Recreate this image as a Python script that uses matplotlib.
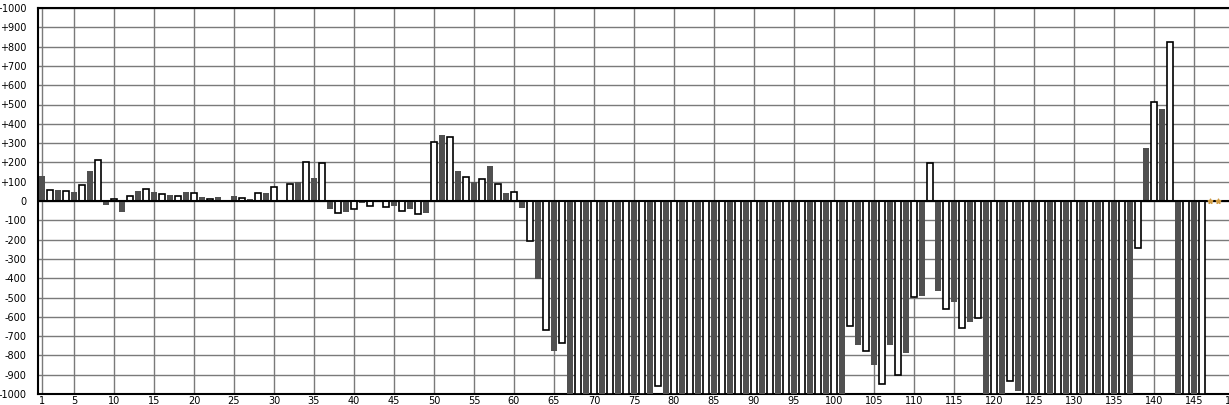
import matplotlib
matplotlib.use('Agg')
import matplotlib.pyplot as plt

# values per index (1..148); clipped bars set to -1000
values = [132, 57, 57, 52, 47, 83, 153, 214, -23, 10,
          -59, 26, 54, 63, 45, 37, 33, 26, 49, 42,
          19, 10, 19, 0, 28, 16, 12, 42, 43, 73,
          0, 89, 97, 203, 117, 198, -43, -63, -59, -42,
          -12, -26, 0, -31, -28, -52, -43, -68, -64, 308,
          343, 334, 158, 125, 101, 115, 179, 89, 43, 47,
          -38, -208, -402, -666, -777, -738, -1000, -1000, -1000, -1000,
          -1000, -1000, -1000, -1000, -1000, -1000, -1000, -957, -1000, -1000,
          -1000, -1000, -1000, -1000, -1000, -1000, -1000, -1000, -1000, -1000,
          -1000, -1000, -1000, -1000, -1000, -1000, -1000, -1000, -1000, -1000,
          -1000, -646, -747, -778, -851, -950, -747, -901, -788, -495,
          -491, 198, -465, -557, -524, -658, -628, -604, -1000, -1000,
          -1000, -931, -986, -1000, -1000, -1000, -1000, -1000, -1000, -1000,
          -1000, -1000, -1000, -1000, -1000, -1000, -1000, -244, 276, 513,
          478, 824, -1000, -1000, -1000, -1000]
index = list(range(1, len(values) + 1))
# trailing points with no bar, drawn as tiny markers
marker_index = [147, 148]
marker_values = [0, 0]

x_ticks = [1] + list(range(5, 151, 5))
y_ticks = list(range(-1000, 1001, 100))
y_labels = [('+%d' % v if v > 0 else str(v)) for v in y_ticks]

fig = plt.figure(figsize=(12.29, 4.05), dpi=100)
ax = fig.add_axes([38 / 1229, 11 / 405, 1200 / 1229, 386 / 405])

dark_x = [i for i in index if i % 2 == 1]
dark_v = [values[i - 1] for i in dark_x]
white_x = [i for i in index if i % 2 == 0]
white_v = [values[i - 1] for i in white_x]

ax.bar(dark_x, dark_v, width=0.75, color='#505050', zorder=3)
ax.bar(white_x, white_v, width=0.75, color='white', edgecolor='black',
       linewidth=1.2, zorder=3)
ax.scatter(marker_index, marker_values, marker='*', s=12, color='#d09a40',
           zorder=5)

ax.axhline(0, color='black', linewidth=1.5, zorder=4)
ax.set_xlim(0.5, 150.5)
ax.set_ylim(-1000, 1000)
ax.set_xticks(x_ticks)
ax.set_yticks(y_ticks)
ax.set_yticklabels(y_labels)
ax.grid(True, color='#7a7a7a', linewidth=1, zorder=0)
ax.set_axisbelow(True)
ax.tick_params(axis='both', length=0, labelsize=7)
ax.tick_params(axis='y', pad=8)
ax.tick_params(axis='x', pad=1.5)
for s in ['left', 'bottom', 'top']:
    ax.spines[s].set_color('black')
    ax.spines[s].set_linewidth(1.5)
ax.spines['right'].set_visible(False)

fig.savefig('out.png', dpi=100)
